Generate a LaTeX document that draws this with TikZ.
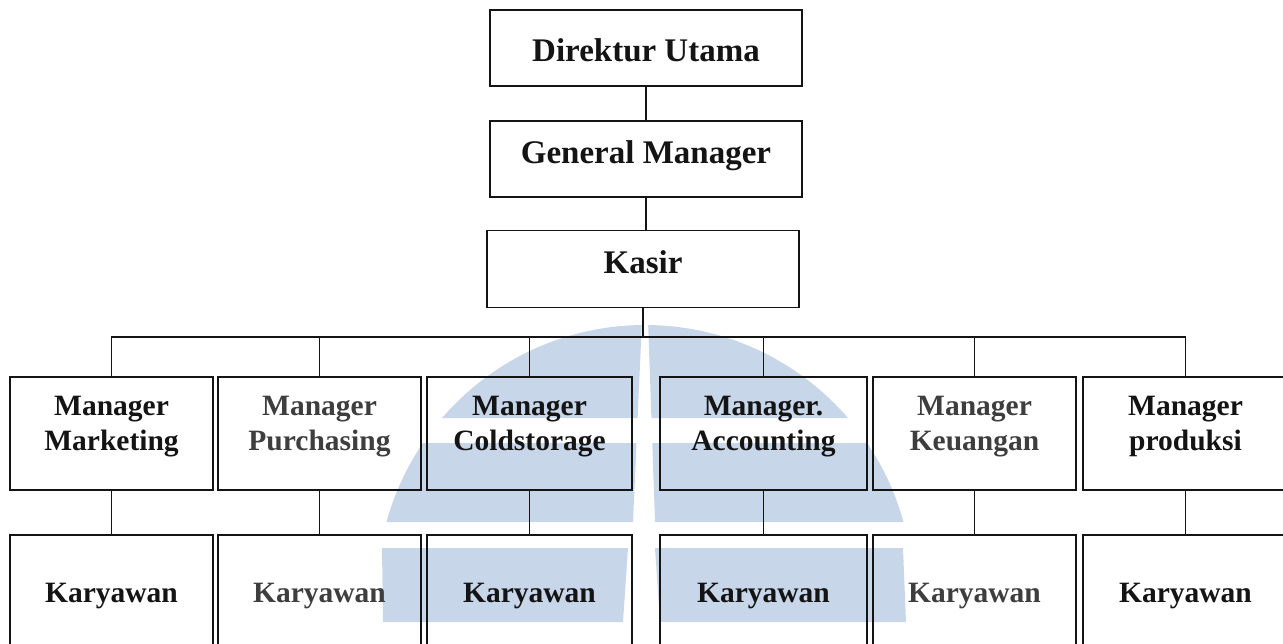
\documentclass[tikz,border=0pt]{standalone}
\usepackage{fontspec}
\setmainfont{Liberation Serif}
\definecolor{wm}{RGB}{200,214,233}
\definecolor{ink}{RGB}{20,20,20}
\definecolor{faint}{RGB}{62,62,62}
\begin{document}
\begin{tikzpicture}[x=1pt,y=-1pt,
  box/.style={draw=ink, line width=1.7pt, inner sep=0pt, text=ink},
  topbox/.style={box, minimum width=312pt, minimum height=76pt, text height=9pt, text depth=0pt, font=\fontsize{33}{38}\selectfont\bfseries},
  mgrbox/.style={box, minimum width=#1, minimum height=113pt, text height=33pt, text depth=0pt, font=\fontsize{29.5}{35}\selectfont\bfseries},
  empbox/.style={box, minimum width=#1, minimum height=140pt, text height=0pt, text depth=6pt, font=\fontsize{29.5}{35}\selectfont\bfseries},
  conn/.style={draw=ink, line width=1.7pt},
  faded/.style={text=faint}
]
\useasboundingbox (0,0) rectangle (1283,643);

% watermark
\begin{scope}
  \clip (0,320) rectangle (1283,418) (0,443) rectangle (1283,522);
  \clip (370,320) -- (642,320) -- (633,522) -- (370,522) -- cycle
        (648,320) -- (920,320) -- (920,522) -- (655,522) -- cycle;
  \fill[wm] (645,593) circle [radius=268];
\end{scope}
\fill[wm] (382,548) -- (628,548) -- (623,622) -- (383,622) -- cycle;
\fill[wm] (655,548) -- (903,548) -- (906,622) -- (660,622) -- cycle;

% top chain
\node[topbox, text height=27.4pt] (dir) at (646,48) {Direktur Utama};
\node[topbox] (gm) at (646,159) {General Manager};
\node[topbox, minimum height=77pt] (kas) at (643,269) {Kasir};

% managers
\node[mgrbox=203pt] (m1) at (111.5,433.5) {\begin{tabular}[b]{@{}c@{}}Manager\\Marketing\end{tabular}};
\node[mgrbox=203pt, faded] (m2) at (319.5,433.5) {\begin{tabular}[b]{@{}c@{}}Manager\\Purchasing\end{tabular}};
\node[mgrbox=205pt] (m3) at (529.5,433.5) {\begin{tabular}[b]{@{}c@{}}Manager\\Coldstorage\end{tabular}};
\node[mgrbox=207pt] (m4) at (763.5,433.5) {\begin{tabular}[b]{@{}c@{}}Manager.\\Accounting\end{tabular}};
\node[mgrbox=203pt, faded] (m5) at (974.5,433.5) {\begin{tabular}[b]{@{}c@{}}Manager\\Keuangan\end{tabular}};
\node[mgrbox=205pt] (m6) at (1185.5,433.5) {\begin{tabular}[b]{@{}c@{}}Manager\\produksi\end{tabular}};

% employees
\node[empbox=203pt] (k1) at (111.5,605) {Karyawan};
\node[empbox=203pt, faded] (k2) at (319.5,605) {Karyawan};
\node[empbox=205pt] (k3) at (529.5,605) {Karyawan};
\node[empbox=207pt] (k4) at (763.5,605) {Karyawan};
\node[empbox=203pt, faded] (k5) at (974.5,605) {Karyawan};
\node[empbox=205pt] (k6) at (1185.5,605) {Karyawan};

% connectors
\coordinate (bus) at (0,337);
\draw[conn] (dir.south) -- (gm.north);
\draw[conn] (gm.south) -- (gm.south |- kas.north);
\draw[conn] (kas.south) -- (kas.south |- bus);
\draw[conn] (m1.north) -- (m1.north |- bus) -- (m6.north |- bus) -- (m6.north);
\foreach \i in {2,...,5} \draw[conn] (m\i.north) -- (m\i.north |- bus);
\foreach \i in {1,...,6} \draw[conn] (m\i.south) -- (k\i.north);
\end{tikzpicture}
\end{document}
